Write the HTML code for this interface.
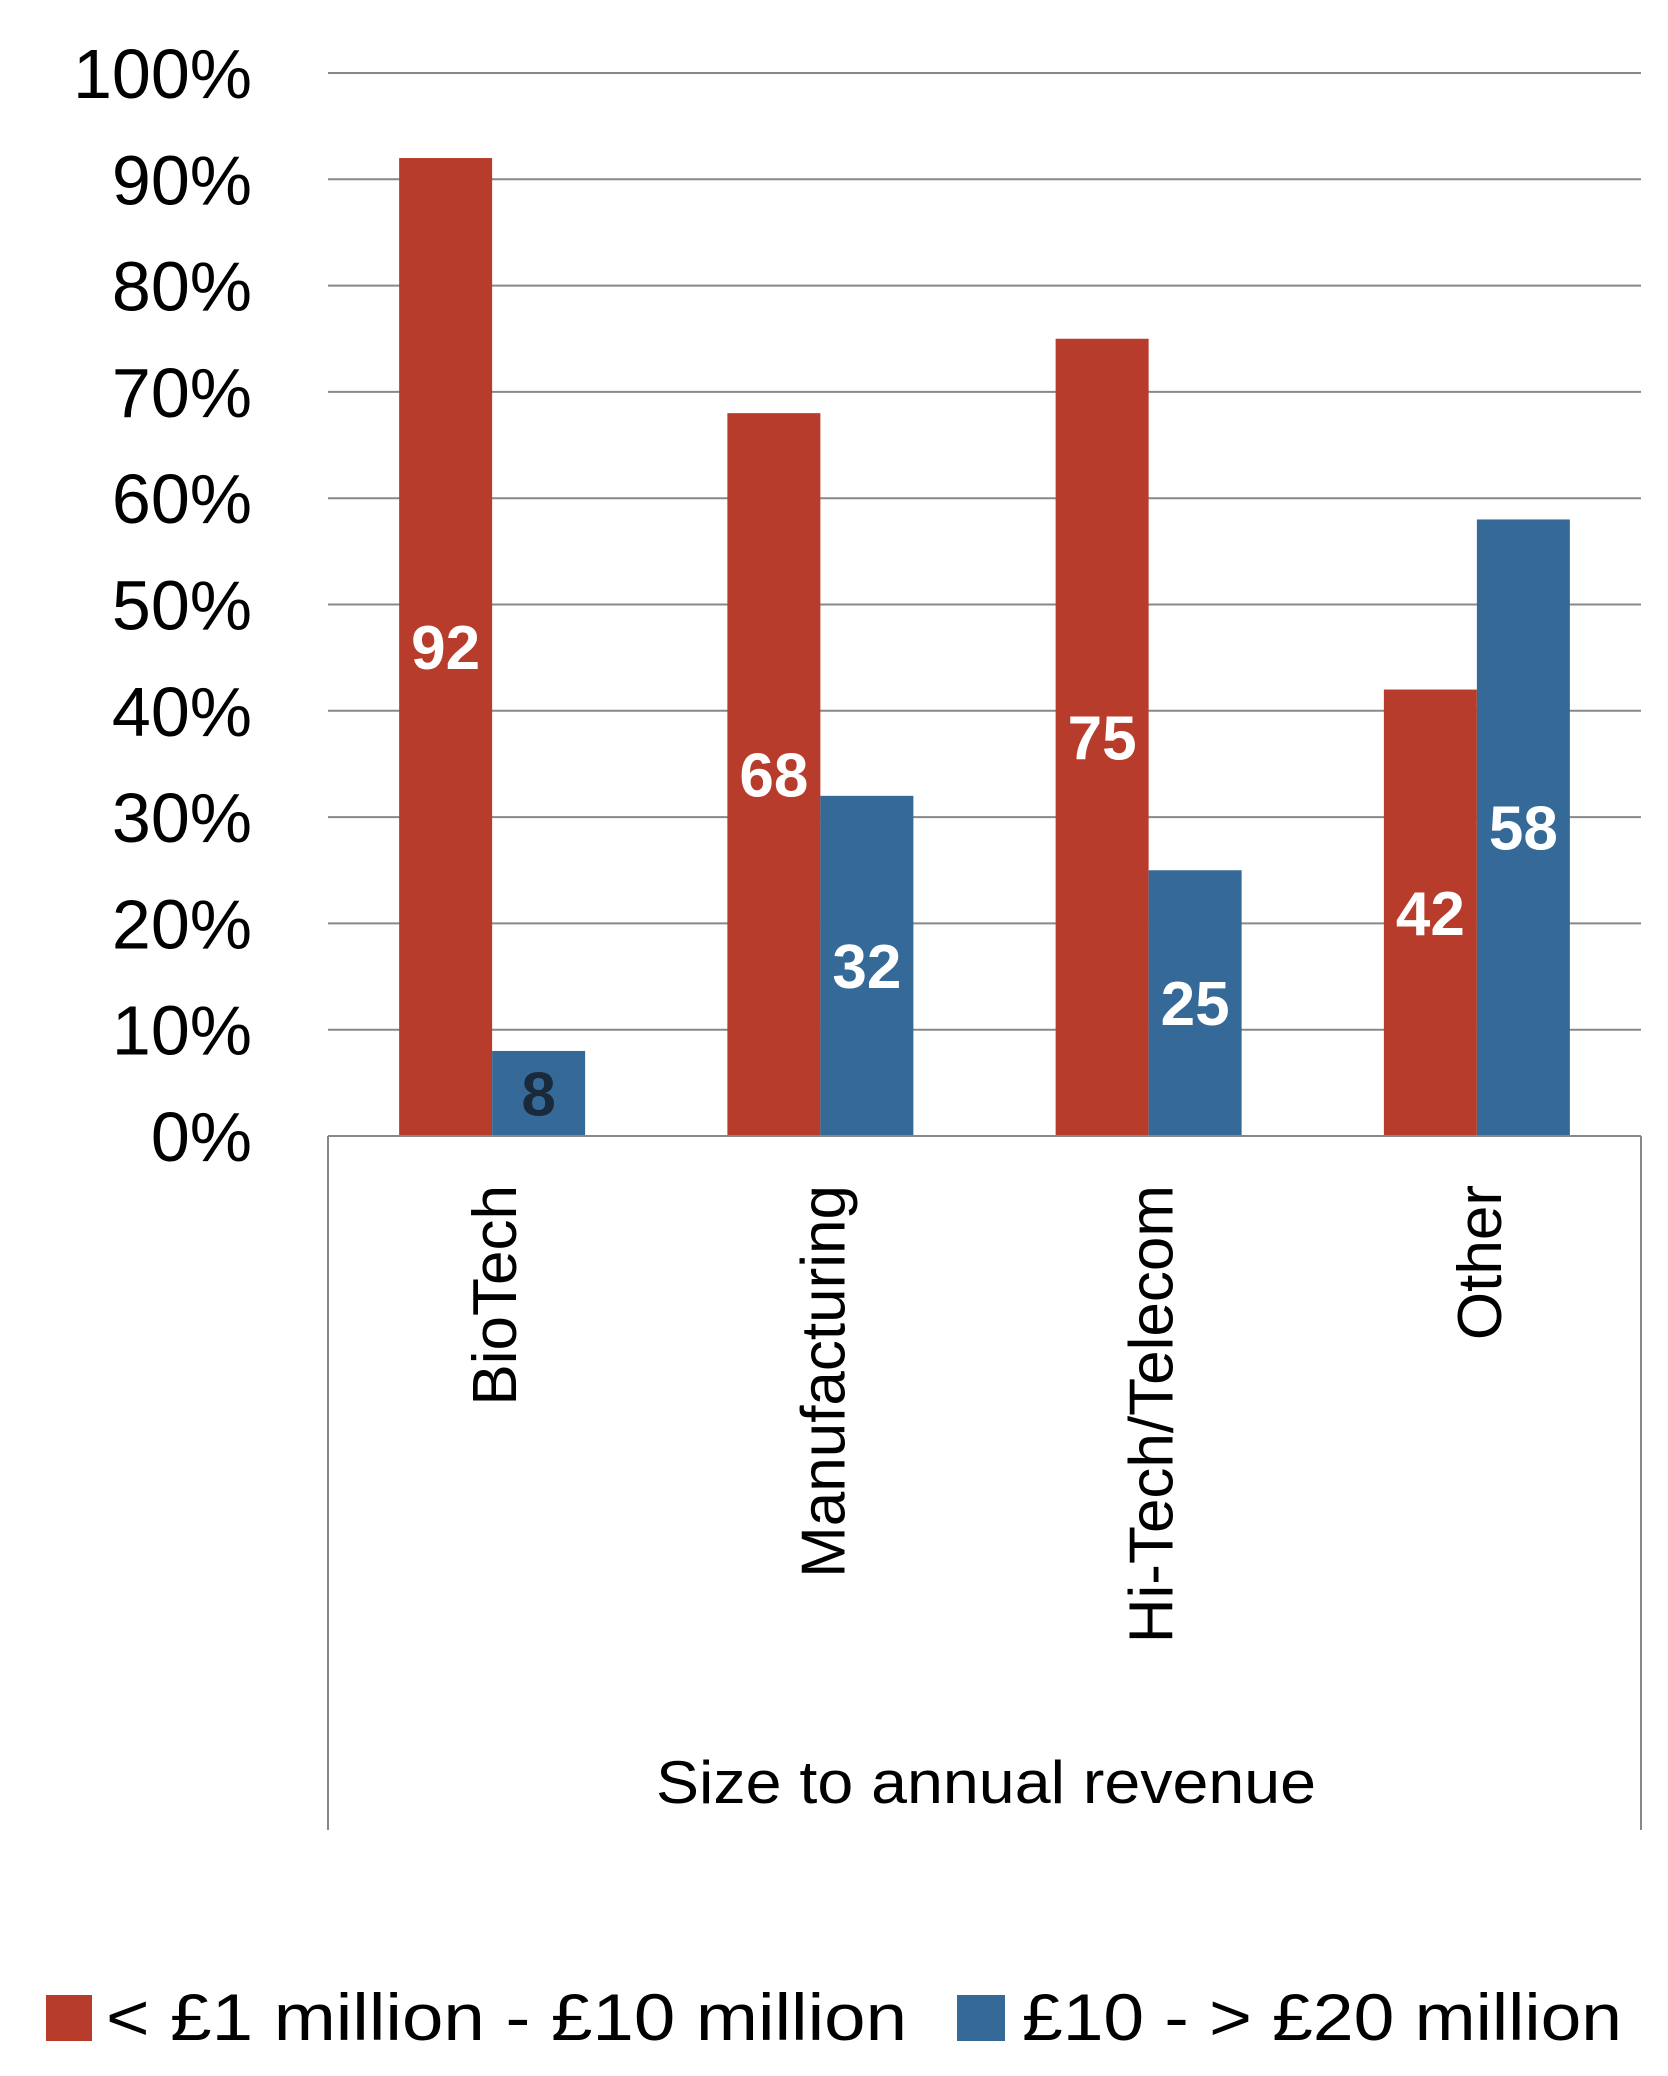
<!DOCTYPE html>
<html><head><meta charset="utf-8"><style>
html,body{margin:0;padding:0;background:#fff;}
svg{display:block;font-family:"Liberation Sans",sans-serif;}
</style></head><body>
<svg id="chart" width="1668" height="2076" viewBox="0 0 1668 2076" xmlns="http://www.w3.org/2000/svg">
<g id="grid"></g>
<g id="yticks"></g>
<g id="bars"></g>
<g id="labels"></g>
<line x1="328" y1="1136" x2="328" y2="1830" stroke="#888" stroke-width="2"/>
<line x1="1641" y1="1136" x2="1641" y2="1830" stroke="#888" stroke-width="2"/>
<line x1="328" y1="1136" x2="1641" y2="1136" stroke="#888" stroke-width="2"/>
<g id="cats"></g>
<text x="986" y="1803" font-size="60" text-anchor="middle" textLength="660" lengthAdjust="spacingAndGlyphs">Size to annual revenue</text>
<g>
<rect x="46" y="1995" width="46" height="46" fill="#B83C2B"/>
<text x="106" y="2040" font-size="66" textLength="801" lengthAdjust="spacingAndGlyphs">&lt; £1 million - £10 million</text>
<rect x="957" y="1995" width="48" height="46" fill="#356A98"/>
<text x="1022" y="2040" font-size="66" textLength="600" lengthAdjust="spacingAndGlyphs">£10 - &gt; £20 million</text>
</g>
</svg>
<script>
const categories = ["BioTech","Manufacturing","Hi-Tech/Telecom","Other"];
const seriesSmall = [92,68,75,42];
const seriesLarge = [8,32,25,58];
const tickLabels = ["0%","10%","20%","30%","40%","50%","60%","70%","80%","90%","100%"];
const tickValues = [0,10,20,30,40,50,60,70,80,90,100];

const NS="http://www.w3.org/2000/svg";
const X0=328,X1=1641,Y0=1136,Y100=73;
const y=v=>Y0+(Y100-Y0)*v/100;
const bw=(X1-X0)/categories.length;
const barW=93;
function mk(tag,attrs,parent){const e=document.createElementNS(NS,tag);for(const k in attrs)e.setAttribute(k,attrs[k]);parent.appendChild(e);return e;}
const grid=document.getElementById('grid'),yt=document.getElementById('yticks'),bars=document.getElementById('bars'),labs=document.getElementById('labels'),cats=document.getElementById('cats');
tickValues.forEach((t,i)=>{
  if(t>0){const l=mk('line',{x1:X0,x2:X1,y1:y(t),y2:y(t),stroke:'#888','stroke-width':2},grid);
  
  }
  const tx=mk('text',{x:252,y:y(t)+25,'font-size':70,'text-anchor':'end'},yt);
  tx.textContent=tickLabels[i];
  
  
});
categories.forEach((c,i)=>{
  const cx=X0+bw*(i+0.5);
  [[seriesSmall[i],'#B83C2B',cx-barW,'#fff'],[seriesLarge[i],'#356A98',cx,i===0?'#1a2a3a':'#fff']].forEach(([v,col,bx,tc],j)=>{
    const r=mk('rect',{x:bx,y:y(v),width:barW,height:Y0-y(v),fill:col},bars);
    
    
    const t=mk('text',{x:bx+barW/2,y:(y(v)+Y0)/2+22,'font-size':62,'font-weight':'bold','text-anchor':'middle',fill:tc},labs);
    t.textContent=v;
    
    
  });
  const ct=mk('text',{x:0,y:0,'font-size':62,'text-anchor':'end',transform:`translate(${cx+24},1185) rotate(-90)`},cats);
  ct.textContent=c;
  
  
});
</script>
</body></html>
